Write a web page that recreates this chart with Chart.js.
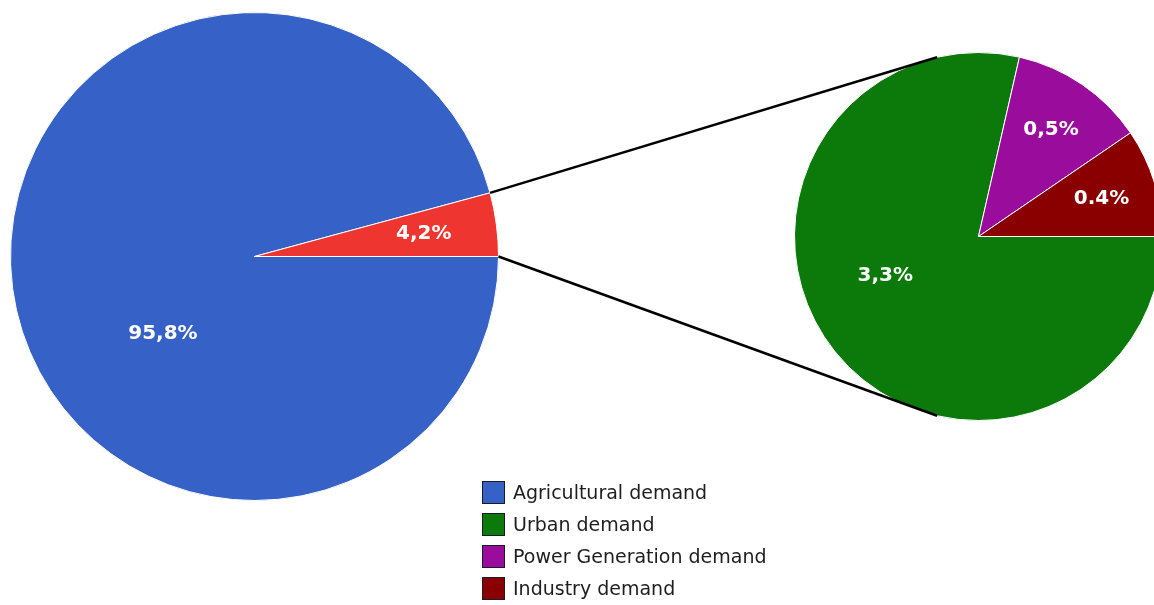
<!DOCTYPE html>
<html>
<head>
<meta charset="utf-8">
<script src="https://cdn.jsdelivr.net/npm/chart.js@4.4.0/dist/chart.umd.min.js"></script>
<style>
    html, body { margin: 0; padding: 0; background: #fff; overflow: hidden; }
    #wrap { position: relative; width: 1154px; height: 605px; overflow: hidden; }
    #mainPie { position: absolute; left: 0; top: 0; }
    #subPie { position: absolute; left: 470px; top: 0; }
    #legend { position: absolute; left: 482px; top: 481px; font-family: "DejaVu Sans", Verdana, sans-serif;
              font-size: 19px; color: #1e1e1e; }
    #legend div { height: 32px; display: flex; align-items: flex-start; white-space: nowrap; }
    #legend span.box { width: 21px; height: 21px; border: 1px solid #1a1a2a; margin-right: 8px; display: inline-block; }
    #legend span.txt { line-height: 22px; }
</style>
</head>
<body>
<div id="wrap">
    <canvas id="mainPie" width="520" height="605"></canvas>
    <canvas id="subPie" width="720" height="605"></canvas>
    <div id="legend"></div>
</div>
<script>
/* ====== DATA ====== */
const mainLabels = ["Agricultural demand", "Other demand"];
const mainValues = [95.8, 4.2];
const mainText = ["95,8%", "4,2%"];

const subLabels = ["Urban demand", "Power Generation demand", "Industry demand"];
const subValues = [3.3, 0.5, 0.4];
const subText = ["3,3%", "0,5%", "0.4%"];

const legendLabels = ["Agricultural demand", "Urban demand", "Power Generation demand", "Industry demand"];

/* ====== STYLE ====== */
const mainColors = ["#3662c8", "#ef3530"];
const subColors = ["#0b7a0b", "#9a0d9c", "#8a0000"];
const legendColors = ["#3662c8", "#0b7a0b", "#9a0d9c", "#8a0000"];

// label spot: [angle in degrees (canvas, clockwise from 3 o'clock), fraction of radius], null = slice middle
const mainLabelAt = [[140, 0.49], null];
const subLabelAt = [[157, 0.55], null, null];
const connectorAngle = 103;

/* ====== LABEL PLUGIN ====== */
function sliceLabels(texts, spots) {
    return {
        id: "sliceLabels",
        afterDatasetsDraw(chart) {
            const c = chart.ctx;
            const arcs = chart.getDatasetMeta(0).data;
            c.save();
            c.font = "bold 20px 'DejaVu Sans', Verdana, sans-serif";
            c.fillStyle = "#ffffff";
            c.textAlign = "center";
            c.textBaseline = "middle";
            arcs.forEach((arc, i) => {
                let ang, frac;
                if (spots[i]) {
                    ang = spots[i][0] * Math.PI / 180;
                    frac = spots[i][1];
                } else {
                    ang = (arc.startAngle + arc.endAngle) / 2;
                    frac = 0.7;
                }
                const r = arc.outerRadius * frac;
                c.fillText(texts[i], arc.x + Math.cos(ang) * r, arc.y + Math.sin(ang) * r);
            });
            c.restore();
        }
    };
}

/* ====== MAIN PIE ====== */
const mainChart = new Chart(document.getElementById("mainPie"), {
    type: "pie",
    data: {
        labels: mainLabels,
        datasets: [{
            data: mainValues,
            backgroundColor: mainColors,
            borderColor: "#ffffff",
            borderWidth: 1
        }]
    },
    options: {
        responsive: false,
        animation: false,
        events: [],
        rotation: 90,
        layout: { padding: { left: 10, top: 12, right: 21, bottom: 104 } },
        plugins: { legend: { display: false }, tooltip: { enabled: false } }
    },
    plugins: [sliceLabels(mainText, mainLabelAt)]
});

/* ====== CONNECTOR LINES ====== */
const connectors = {
    id: "connectors",
    afterDatasetsDraw(chart) {
        const c = chart.ctx;
        const offX = 470;
        const red = mainChart.getDatasetMeta(0).data[1];
        const sub = chart.getDatasetMeta(0).data[0];
        const a = connectorAngle * Math.PI / 180;
        const from = [
            [red.x + Math.cos(red.startAngle) * red.outerRadius - offX, red.y + Math.sin(red.startAngle) * red.outerRadius],
            [red.x + Math.cos(red.endAngle) * red.outerRadius - offX, red.y + Math.sin(red.endAngle) * red.outerRadius]
        ];
        const to = [
            [sub.x + Math.cos(-a) * sub.outerRadius, sub.y + Math.sin(-a) * sub.outerRadius],
            [sub.x + Math.cos(a) * sub.outerRadius, sub.y + Math.sin(a) * sub.outerRadius]
        ];
        c.save();
        c.strokeStyle = "#000000";
        c.lineWidth = 2.5;
        for (let i = 0; i < 2; i++) {
            c.beginPath();
            c.moveTo(from[i][0], from[i][1]);
            c.lineTo(to[i][0], to[i][1]);
            c.stroke();
        }
        c.restore();
    }
};

/* ====== SUB PIE ====== */
new Chart(document.getElementById("subPie"), {
    type: "pie",
    data: {
        labels: subLabels,
        datasets: [{
            data: subValues,
            backgroundColor: subColors,
            borderColor: "#ffffff",
            borderWidth: 1
        }]
    },
    options: {
        responsive: false,
        animation: false,
        events: [],
        rotation: 90,
        layout: { padding: { left: 324, top: 52, right: 27, bottom: 184 } },
        plugins: { legend: { display: false }, tooltip: { enabled: false } }
    },
    plugins: [connectors, sliceLabels(subText, subLabelAt)]
});

/* ====== LEGEND ====== */
const legendEl = document.getElementById("legend");
legendLabels.forEach((lab, i) => {
    const row = document.createElement("div");
    row.innerHTML = '<span class="box" style="background:' + legendColors[i] + '"></span><span class="txt"></span>';
    row.querySelector(".txt").textContent = lab;
    legendEl.appendChild(row);
});
</script>
</body>
</html>
